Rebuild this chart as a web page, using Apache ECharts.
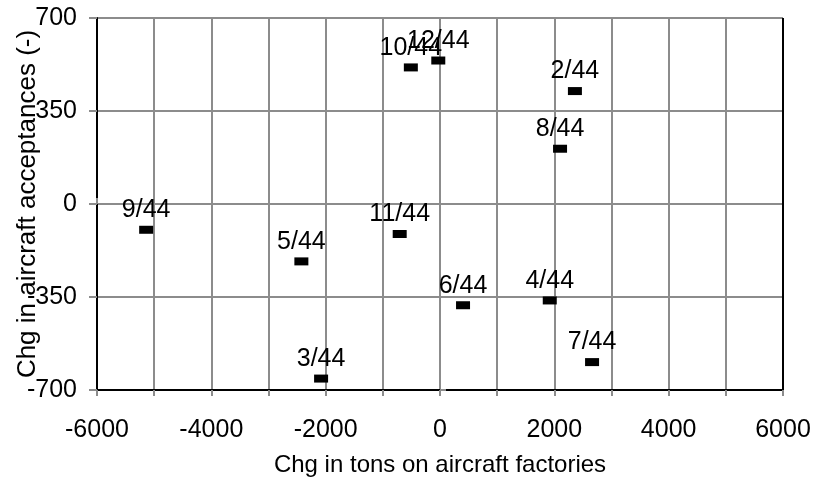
<!DOCTYPE html>
<html>
<head>
<meta charset="utf-8">
<script src="https://cdn.jsdelivr.net/npm/echarts@6/dist/echarts.min.js"></script>
<style>
html,body{margin:0;padding:0;background:#fff;}
#chart{width:824px;height:478px;}
</style>
</head>
<body>
<div id="chart"></div>
<script>
// Data
var pointLabels = ['2/44','3/44','4/44','5/44','6/44','7/44','8/44','9/44','10/44','11/44','12/44'];
var xValues = [2360, -2080, 1920, -2425, 403, 2660, 2100, -5140, -510, -705, -30];
var yValues = [425, -657, -363, -216, -381, -595, 208, -97, 514, -113, 540];
var xTickLabels = [-6000, -4000, -2000, 0, 2000, 4000, 6000];
var yTickLabels = [-700, -350, 0, 350, 700];
var xMin = -6000, xMax = 6000, yMin = -700, yMax = 700;

var FONT = "'Liberation Sans', Arial, Helvetica, sans-serif";
var data = pointLabels.map(function (n, i) { return { name: n, value: [xValues[i], yValues[i]] }; });

var chart = echarts.init(document.getElementById('chart'));
chart.setOption({
  animation: false,
  backgroundColor: '#fff',
  grid: { left: 97, right: 41, top: 18, bottom: 88, containLabel: false, outerBoundsMode: 'none' },
  xAxis: [{
    type: 'value', min: xMin, max: xMax, interval: 1000, position: 'bottom',
    name: 'Chg in tons on aircraft factories', nameLocation: 'middle', nameGap: 63, nameMoveOverlap: false,
    nameTextStyle: { fontFamily: FONT, fontSize: 24, color: '#000' },
    axisLine: { show: true, onZero: false, lineStyle: { color: '#000', width: 2 } },
    axisTick: { show: true, inside: false, length: 6, lineStyle: { color: '#8c8c8c', width: 2 } },
    axisLabel: {
      margin: 28, fontFamily: FONT, fontSize: 25, color: '#000',
      formatter: function (v) { return xTickLabels.indexOf(v) >= 0 ? String(v) : ''; }
    },
    splitLine: { show: true, lineStyle: { color: '#8c8c8c', width: 2 } }
  }, {
    type: 'value', min: xMin, max: xMax, interval: 1000, position: 'bottom',
    axisLine: { show: false }, axisLabel: { show: false }, splitLine: { show: false },
    axisTick: { show: true, inside: true, length: 6, lineStyle: { color: '#8c8c8c', width: 2 } }
  }],
  yAxis: [{
    type: 'value', min: yMin, max: yMax, interval: 350, position: 'left',
    name: 'Chg in aircraft acceptances (-)', nameLocation: 'middle', nameGap: 56, nameRotate: 90, nameMoveOverlap: false,
    nameTextStyle: { fontFamily: FONT, fontSize: 26, color: '#000' },
    axisLine: { show: true, onZero: false, lineStyle: { color: '#000', width: 2 } },
    axisTick: { show: true, inside: false, length: 8, lineStyle: { color: '#8c8c8c', width: 2 } },
    axisLabel: {
      margin: 20, fontFamily: FONT, fontSize: 25, color: '#000',
      formatter: function (v) { return yTickLabels.indexOf(v) >= 0 ? String(v) : ''; }
    },
    splitLine: { show: true, lineStyle: { color: '#8c8c8c', width: 2 } }
  }, {
    type: 'value', min: yMin, max: yMax, interval: 350, position: 'left',
    axisLine: { show: false }, axisLabel: { show: false }, splitLine: { show: false },
    axisTick: { show: true, inside: true, length: 6, lineStyle: { color: '#8c8c8c', width: 2 } }
  }],
  series: [{
    type: 'scatter', xAxisIndex: 0, yAxisIndex: 0,
    symbol: 'rect', symbolSize: [14, 8],
    itemStyle: { color: '#000', opacity: 1 },
    label: {
      show: true, position: 'top', distance: 3,
      fontFamily: FONT, fontSize: 25, color: '#000',
      formatter: function (p) { return p.name; }
    },
    markLine: {
      silent: true, symbol: ['none', 'none'], label: { show: false },
      lineStyle: { color: '#000', width: 2, type: 'solid' },
      data: [[{ coord: [xMax, yMin] }, { coord: [xMax, yMax] }]]
    },
    data: data
  }]
});
</script>
</body>
</html>
